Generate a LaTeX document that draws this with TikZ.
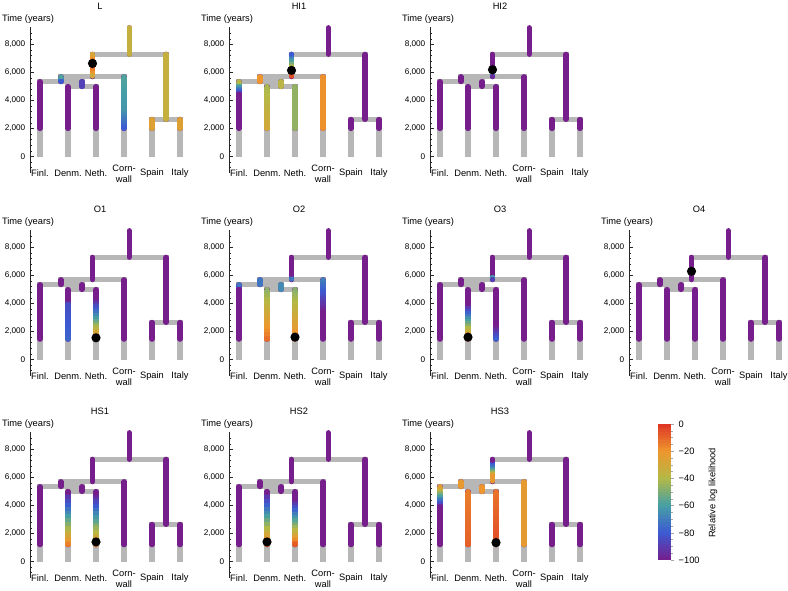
\documentclass[tikz,border=0pt]{standalone}
\usepackage{fontspec}
\setmainfont{Liberation Sans}

% colour map for the relative log likelihood (-100 ... 0)
\definecolor{rb0}{RGB}{118,30,140}
\definecolor{rb1}{RGB}{60,90,210}
\definecolor{rb2}{RGB}{70,160,165}
\definecolor{rb3}{RGB}{180,185,70}
\definecolor{rb4}{RGB}{238,150,45}
\definecolor{rb5}{RGB}{222,52,38}
\definecolor{branchgrey}{RGB}{183,183,183}

% value -> colour rbseg
\newcommand{\setrb}[1]{%
  \pgfmathsetmacro{\rbt}{max(0,min(5,(#1+100)/20))}%
  \pgfmathtruncatemacro{\rbk}{min(floor(\rbt),4)}%
  \pgfmathtruncatemacro{\rbp}{round((\rbt-\rbk)*100)}%
  \pgfmathtruncatemacro{\rbn}{\rbk+1}%
  \colorlet{rbseg}{rb\rbn!\rbp!rb\rbk}}

% x, from, to, value
\newcommand{\solidseg}[4]{%
  \setrb{#4}\draw[colbranch, draw=rbseg] (#1,#2) -- (#1,#3);}

% x, from, to, value at from, value at to
\newcommand{\gradseg}[5]{%
  \foreach \gi in {1,...,14}{%
    \pgfmathsetmacro{\ga}{#2+(#3-#2)*(\gi-1)/14}%
    \pgfmathsetmacro{\gb}{#2+(#3-#2)*(\gi+0.4)/14}%
    \pgfmathsetmacro{\gv}{#4+(#5-#4)*(\gi-0.5)/14}%
    \setrb{\gv}%
    \draw[colbranch, draw=rbseg, line cap=butt] (#1,\ga) -- (#1,\gb);
  }%
  \setrb{#4}\fill[rbseg] (#1,#2) circle (2.6pt);
  \setrb{#5}\fill[rbseg] (#1,#3) circle (2.6pt);}

% name, title, cut-off (kyr)
\newcommand{\treepanel}[3]{%
  % time axis
  \draw[axisline] (30,9.25) -- (30,-1.15);
  \foreach \tk in {-0.8,-0.4,...,9.2} \draw[axisline] (30,\tk) -- (31.8,\tk);
  \foreach \tk/\lab in {0/0, 2/{2,000}, 4/{4,000}, 6/{6,000}, 8/{8,000}}{
    \draw[axisline] (30,\tk) -- (33.5,\tk);
    \node[ticklabel, anchor=east] (#1-y\tk) at (25.5,\tk) {\lab};
  }
  \node[axistitle] (#1-time) at (28,9.8) {Time (years)};
  \node[paneltitle] (#1-title) at (100,10.7) {#2};
  % leaves
  \foreach \lx/\ln/\lab in {40/finl/Finl., 68/denm/Denm., 96/neth/Neth.,
      124/corn/{Corn-\\wall}, 152/spain/Spain, 180/italy/Italy}
    \node[leaflabel] (#1-\ln) at (\lx,-1.22) {\lab};
  % tree in grey
  \draw[greytree] (40,0) |- (82,5.35) -- (82,5.0);
  \draw[greytree] (68,0) |- (96,5.0) -- (96,0);
  \draw[greytree] (61,5.35) |- (124,5.7) -- (124,0);
  \draw[greytree] (92.5,5.7) |- (166,7.3) -- (166,2.65);
  \draw[greytree] (152,0) |- (180,2.65) -- (180,0);
  \draw[greytree] (129.25,7.3) -- (129.25,9.2);
  % branches at -100 unless recoloured
  \draw[colbranch, draw=rb0] (129.25,9.2) -- (129.25,7.3)
    (166,7.3) -- (166,2.65) (152,2.65) -- (152,#3) (180,2.65) -- (180,#3)
    (92.5,7.3) -- (92.5,5.7) (124,5.7) -- (124,#3)
    (61,5.7) -- (61,5.35) (40,5.35) -- (40,#3)
    (82,5.35) -- (82,5.0) (68,5.0) -- (68,#3) (96,5.0) -- (96,#3);
}

\begin{document}
\begin{tikzpicture}[
  x=1pt, y=-1pt,
  font=\fontsize{9.3}{11}\selectfont,
  panel/.style 2 args={shift={(#1,#2+156.5)}, y=14pt},
  greytree/.style={draw=branchgrey, line width=5.2pt, line join=miter},
  colbranch/.style={line width=5.2pt, line cap=round},
  axisline/.style={draw=black!85, line width=0.5pt},
  ticklabel/.style={font=\fontsize{8.2}{9}\selectfont, inner sep=0pt},
  axistitle/.style={inner sep=0pt},
  paneltitle/.style={inner sep=0pt},
  leaflabel/.style={align=center, inner sep=0pt},
  hitdot/.style={circle, fill=black, minimum size=9.2pt, inner sep=0pt},
  cbtick/.style={draw=black!35, line width=0.4pt},
]
\useasboundingbox (0,0) rectangle (788,590);

% ---- row 1
\begin{scope}[panel={0}{0}]
  \treepanel{L}{L}{2.0}
  \solidseg{129.25}{9.2}{7.3}{-34}
  \solidseg{166}{7.3}{2.65}{-34}
  \solidseg{152}{2.65}{2.0}{-26}
  \solidseg{180}{2.65}{2.0}{-26}
  \gradseg{92.5}{7.3}{6.6}{-28}{-2}
  \gradseg{92.5}{6.6}{5.75}{-2}{-30}
  \gradseg{61}{5.7}{5.35}{-58}{-80}
  \solidseg{82}{5.35}{5.0}{-88}
  \gradseg{124}{5.7}{3.4}{-58}{-63}
  \gradseg{124}{3.4}{2.0}{-63}{-80}
  \node[hitdot] (L-dot) at (92.5,6.65) {};
\end{scope}

\begin{scope}[panel={199}{0}]
  \treepanel{HIa}{HI1}{2.0}
  \gradseg{92.5}{7.3}{5.75}{-80}{-6}
  \solidseg{61}{5.7}{5.35}{-20}
  \solidseg{82}{5.35}{5.0}{-38}
  \gradseg{40}{5.35}{4.45}{-40}{-100}
  \gradseg{68}{5.0}{2.0}{-42}{-30}
  \solidseg{96}{5.0}{2.0}{-46}
  \solidseg{124}{5.7}{2.0}{-19}
  \node[hitdot] (HIa-dot) at (92.5,6.15) {};
\end{scope}

\begin{scope}[panel={400}{0}]
  \treepanel{HIb}{HI2}{2.0}
  \gradseg{92.5}{6.1}{5.85}{-100}{-65}
  \gradseg{92.5}{5.85}{5.72}{-65}{-95}
  \node[hitdot] (HIb-dot) at (92.5,6.2) {};
\end{scope}

% ---- row 2
\begin{scope}[panel={0}{203}]
  \treepanel{Oa}{O1}{1.45}
  \gradseg{68}{4.3}{3.9}{-100}{-84}
  \gradseg{68}{3.9}{1.45}{-84}{-77}
  \gradseg{96}{4.4}{1.45}{-100}{-15}
  \node[hitdot] (Oa-dot) at (96,1.55) {};
\end{scope}

\begin{scope}[panel={199}{203}]
  \treepanel{Ob}{O2}{1.45}
  \gradseg{92.5}{6.05}{5.75}{-100}{-72}
  \solidseg{61}{5.7}{5.35}{-72}
  \solidseg{82}{5.35}{5.0}{-66}
  \gradseg{40}{5.35}{5.0}{-72}{-100}
  \gradseg{68}{5.0}{1.45}{-47}{-12}
  \gradseg{96}{5.0}{1.45}{-48}{-16}
  \gradseg{124}{5.7}{3.4}{-70}{-100}
  \node[hitdot] (Ob-dot) at (96,1.6) {};
\end{scope}

\begin{scope}[panel={400}{203}]
  \treepanel{Oc}{O3}{1.45}
  \gradseg{92.5}{6.05}{5.85}{-100}{-62}
  \gradseg{92.5}{5.85}{5.72}{-62}{-88}
  \gradseg{68}{4.0}{1.45}{-100}{-12}
  \gradseg{96}{2.5}{1.45}{-100}{-78}
  \node[hitdot] (Oc-dot) at (68,1.6) {};
\end{scope}

\begin{scope}[panel={599}{203}]
  \treepanel{Od}{O4}{1.45}
  \node[hitdot] (Od-dot) at (92.5,6.3) {};
\end{scope}

% ---- row 3
\begin{scope}[panel={0}{405}]
  \treepanel{HSa}{HS1}{1.2}
  \gradseg{68}{5.0}{1.2}{-100}{-15}
  \gradseg{96}{4.9}{1.2}{-100}{-18}
  \node[hitdot] (HSa-dot) at (96,1.4) {};
\end{scope}

\begin{scope}[panel={199}{405}]
  \treepanel{HSb}{HS2}{1.2}
  \gradseg{68}{5.0}{1.2}{-100}{-12}
  \gradseg{96}{4.5}{1.2}{-100}{-8}
  \node[hitdot] (HSb-dot) at (68,1.4) {};
\end{scope}

\begin{scope}[panel={400}{405}]
  \treepanel{HSc}{HS3}{1.2}
  \gradseg{92.5}{7.25}{6.15}{-100}{-25}
  \solidseg{92.5}{6.15}{5.75}{-22}
  \solidseg{61}{5.7}{5.35}{-22}
  \solidseg{82}{5.35}{5.0}{-20}
  \gradseg{40}{5.35}{3.9}{-25}{-100}
  \gradseg{68}{5.0}{1.2}{-15}{-9}
  \gradseg{96}{5.0}{1.2}{-13}{-5}
  \solidseg{124}{5.7}{1.2}{-23}
  \node[hitdot] (HSc-dot) at (96,1.35) {};
\end{scope}

% ---- colour bar
\begin{scope}[shift={(658,560)}, y=1.36pt]
  \foreach \i in {0,...,49}{
    \setrb{-99+2*\i}
    \fill[rbseg] (0,2*\i) rectangle (13,2*\i+2.1);
  }
  \foreach \v in {0,5,...,100} \draw[cbtick] (13,\v) -- (14.5,\v);
  \foreach \v/\lab in {0/−100, 20/−80, 40/−60, 60/−40, 80/−20, 100/0}{
    \draw[cbtick] (13,\v) -- (16,\v);
    \node[anchor=west, inner sep=0pt] (cb\v) at (20.5,\v) {\lab};
  }
  \node[rotate=90] (cbtitle) at (55,49.3) {Relative log likelihood};
\end{scope}

\end{tikzpicture}
\end{document}
